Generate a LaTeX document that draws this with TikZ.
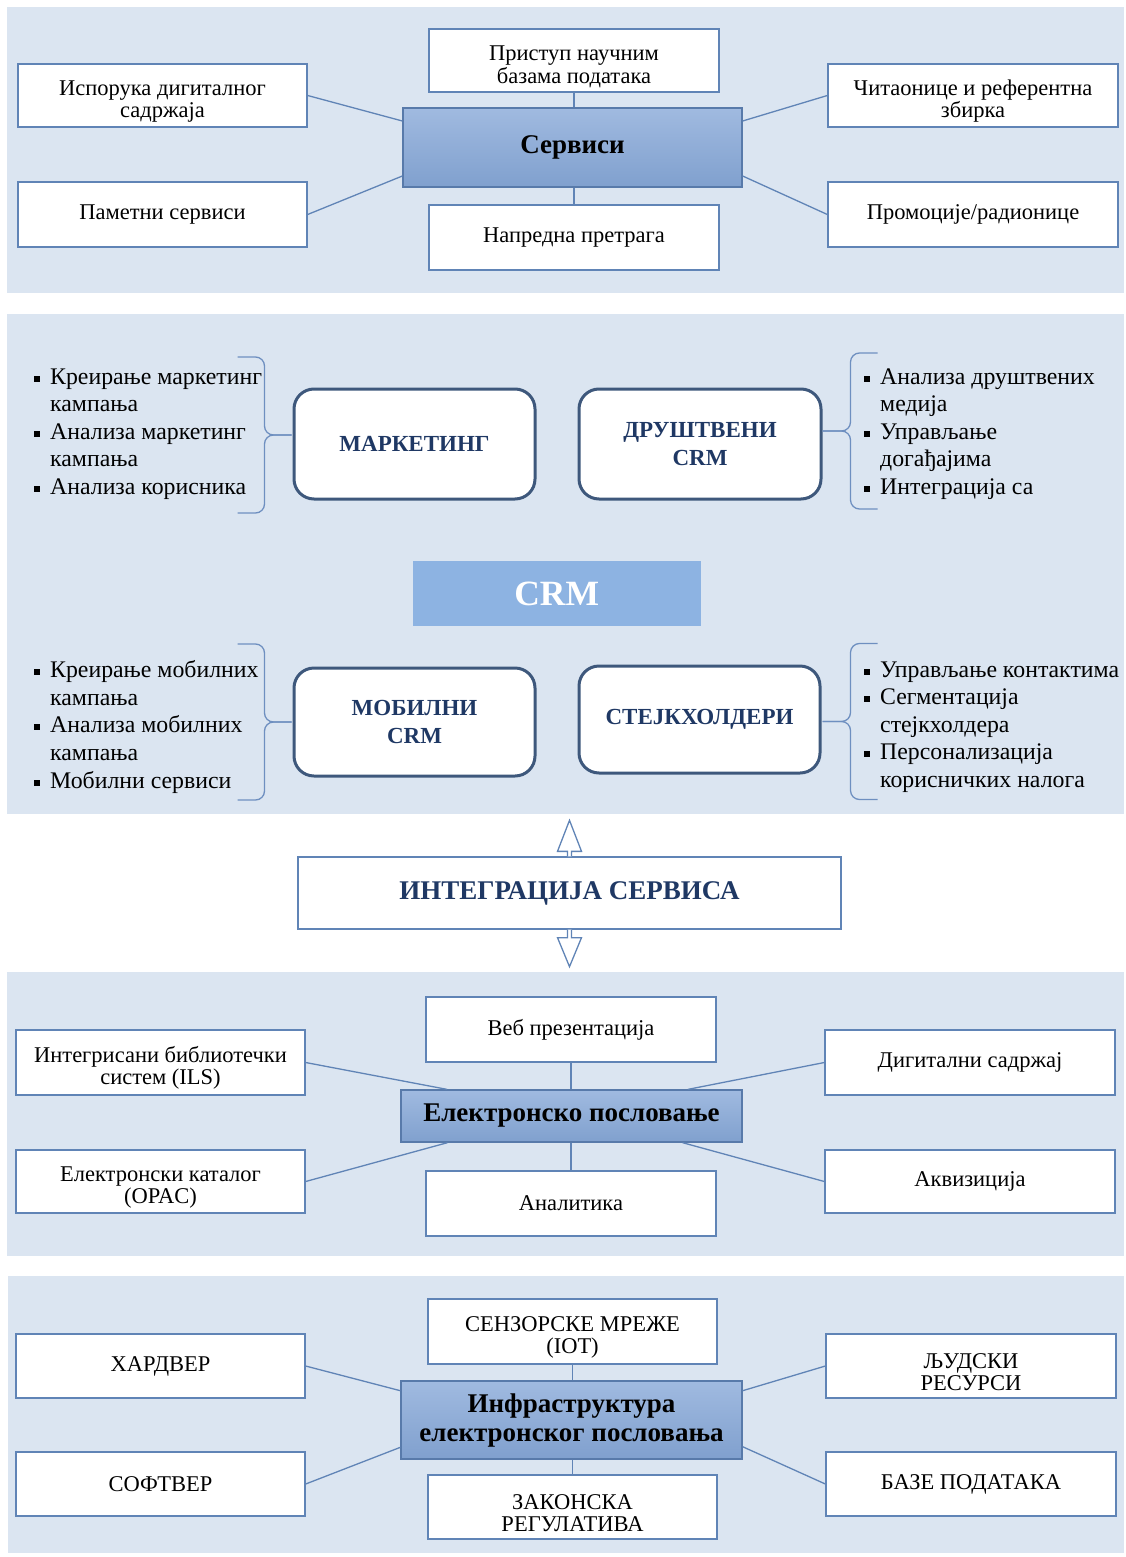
\documentclass[tikz,border=0pt]{standalone}
\usepackage{fontspec}
\setmainfont{Liberation Serif}
\usetikzlibrary{calc}

\definecolor{panelbg}{RGB}{219,229,241}
\definecolor{boxblue}{RGB}{96,132,182}
\definecolor{hubedge}{RGB}{88,122,170}
\definecolor{hubtop}{RGB}{160,186,224}
\definecolor{hubbot}{RGB}{128,160,206}
\definecolor{crmfill}{RGB}{141,179,226}
\definecolor{areaedge}{RGB}{62,88,124}
\definecolor{navy}{RGB}{31,56,100}
\definecolor{bracecol}{RGB}{110,143,192}

% list bullet and hanging indent
\newcommand\bul{\makebox[16pt][l]{\rule[2.5pt]{6pt}{6pt}}}
\newcommand\ind{\hspace*{16pt}}
% taller first line, lowers a two-line label inside its box
\newcommand\tall{\rule{0pt}{27pt}}

% "}" brace whose tip is at #1, half span #2
\newcommand\bracer[2]{%
  \draw[brace] (#1) -- ++(-18,0) to[out=180,in=-90] ++(-9,-9) -- ++(0,{-(#2-18)}) to[out=90,in=0] ++(-9,-9) -- ++(-18,0);
  \draw[brace] (#1) -- ++(-18,0) to[out=180,in=90] ++(-9,9) -- ++(0,{#2-18}) to[out=-90,in=0] ++(-9,9) -- ++(-18,0);
}
% "{" brace whose tip is at #1, half span #2
\newcommand\bracel[2]{%
  \draw[brace] (#1) -- ++(19,0) to[out=0,in=-90] ++(9,-9) -- ++(0,{-(#2-18)}) to[out=90,in=180] ++(9,-9) -- ++(18,0);
  \draw[brace] (#1) -- ++(19,0) to[out=0,in=90] ++(9,9) -- ++(0,{#2-18}) to[out=-90,in=180] ++(9,9) -- ++(18,0);
}

\begin{document}
\begin{tikzpicture}[x=1pt,y=-1pt,
  panel/.style={fill=panelbg},
  leaf/.style={draw=boxblue, line width=1.3pt, fill=white, inner sep=0pt, align=center,
    font=\fontsize{22.5}{22.5}\selectfont},
  hub/.style={draw=hubedge, line width=1.3pt, top color=hubtop, bottom color=hubbot,
    inner sep=0pt, align=center, font=\bfseries\fontsize{27}{29}\selectfont},
  conn/.style={draw=boxblue, line width=1.3pt},
  area/.style={draw=areaedge, line width=3pt, rounded corners=20pt, fill=white,
    inner sep=0pt, align=center, text=navy, font=\bfseries\fontsize{23}{27.5}\selectfont},
  items/.style={inner sep=0pt, align=left, anchor=west, font=\fontsize{23.8}{27.6}\selectfont},
  brace/.style={draw=bracecol, line width=1.3pt},
  hollow/.style={draw=boxblue, line width=1.3pt, fill=white, line join=miter}
]
\useasboundingbox (0,0) rectangle (1126,1557);
\fill[white] (0,0) rectangle (1126,1557);

% background bands
\fill[panel] (7,7) rectangle (1124,293);
\fill[panel] (7,314) rectangle (1124,814);
\fill[panel] (7,972) rectangle (1124,1256);
\fill[panel] (8,1276) rectangle (1124,1553);

% ---------- services ----------
\node[hub, minimum width=339pt, minimum height=79pt] (serv) at (572.5,147.5) {Сервиси};
\node[leaf, minimum width=289pt, minimum height=63pt] (isp) at (162.5,95.5) {\tall Испорука дигиталног\\садржаја};
\node[leaf, minimum width=289pt, minimum height=65pt] (pam) at (162.5,214.5) {Паметни сервиси};
\node[leaf, minimum width=290pt, minimum height=63pt] (pri) at (574,60.5) {\tall Приступ научним\\базама података};
\node[leaf, minimum width=290pt, minimum height=65pt] (nap) at (574,237.5) {Напредна претрага};
\node[leaf, minimum width=290pt, minimum height=63pt] (cit) at (973,95.5) {\tall Читаонице и референтна\\збирка};
\node[leaf, minimum width=290pt, minimum height=65pt] (pro) at (973,214.5) {Промоције/радионице};

\draw[conn] (isp.east) -- ($(serv.west)+(0,-26.5)$);
\draw[conn] (pam.east) -- ($(serv.west)+(0,28.5)$);
\draw[conn] (cit.west) -- ($(serv.east)+(0,-26.5)$);
\draw[conn] (pro.west) -- ($(serv.east)+(0,28.5)$);
\draw[conn] (pri.south) -- (pri.south |- serv.north);
\draw[conn] (nap.north) -- (nap.north |- serv.south);

% ---------- CRM ----------
\node[fill=crmfill, minimum width=288pt, minimum height=65pt, inner sep=0pt, text=white,
  font=\bfseries\fontsize{35.5}{40}\selectfont] (crm) at (556.75,593.5) {CRM};

\node[area, minimum width=241pt, minimum height=110pt] (mark) at (414.5,444) {МАРКЕТИНГ};
\node[area, minimum width=242pt, minimum height=110pt] (dru) at (700,444) {ДРУШТВЕНИ\\CRM};
\node[area, minimum width=241pt, minimum height=108pt] (mob) at (414.5,722) {МОБИЛНИ\\CRM};
\node[area, minimum width=241pt, minimum height=107pt] (ste) at (699.5,719.5) {СТЕЈКХОЛДЕРИ};

\node[items] (lmark) at (34,434) {\bul Креирање маркетинг\\\ind кампања\\\bul Анализа маркетинг\\\ind кампања\\\bul Анализа корисника};
\node[items] (ldru) at (864,434) {\bul Анализа друштвених\\\ind медија\\\bul Управљање\\\ind догађајима\\\bul Интеграција са};
\node[items] (lmob) at (34,727) {\bul Креирање мобилних\\\ind кампања\\\bul Анализа мобилних\\\ind кампања\\\bul Мобилни сервиси};
\node[items] (lste) at (864,727) {\bul Управљање контактима\\\bul Сегментација\\\ind стејкхолдера\\\bul Персонализација\\\ind корисничких налога};

\coordinate (tmark) at ($(mark.west)+(-1,-9)$);
\coordinate (tdru) at ($(dru.east)+(0,-13)$);
\coordinate (tmob) at ($(mob.west)+(-1,0)$);
\coordinate (tste) at ($(ste.east)+(1,2)$);
\bracer{tmark}{78}
\bracel{tdru}{78}
\bracer{tmob}{78}
\bracel{tste}{78}

% ---------- integration ----------
\node[leaf, minimum width=543pt, minimum height=72pt, text=navy,
  font=\bfseries\fontsize{27}{30}\selectfont] (integ) at (569.5,893) {ИНТЕГРАЦИЈА СЕРВИСА};
\draw[hollow] ($(integ.north)+(-2,0)$) -- ++(0,-5) -- ++(-10,0) -- ++(12,-31) -- ++(12,31) -- ++(-10,0) -- ++(0,5);
\draw[hollow] ($(integ.south)+(-2,0)$) -- ++(0,8) -- ++(-10,0) -- ++(12,29) -- ++(12,-29) -- ++(-10,0) -- ++(0,-8);

% ---------- e-business ----------
\node[hub, minimum width=341pt, minimum height=52pt] (ep) at (571.5,1116) {Електронско пословање};
\node[leaf, minimum width=289pt, minimum height=65pt] (ils) at (160.5,1062.5) {\tall Интегрисани библиотечки\\систем (ILS)};
\node[leaf, minimum width=289pt, minimum height=63pt] (kat) at (160.5,1181.5) {\tall Електронски каталог\\(OPAC)};
\node[leaf, minimum width=290pt, minimum height=65pt] (veb) at (571,1029.5) {Веб презентација};
\node[leaf, minimum width=290pt, minimum height=65pt] (ana) at (571,1203.5) {Аналитика};
\node[leaf, minimum width=290pt, minimum height=65pt] (dig) at (970,1062.5) {Дигитални садржај};
\node[leaf, minimum width=290pt, minimum height=63pt] (akv) at (970,1181.5) {Аквизиција};

\draw[conn] (ils.east) -- ($(ep.north)+(-124.5,0)$);
\draw[conn] (kat.east) -- ($(ep.south)+(-124,0)$);
\draw[conn] (dig.west) -- ($(ep.north)+(116.5,0)$);
\draw[conn] (akv.west) -- ($(ep.south)+(111,0)$);
\draw[conn] (veb.south) -- (veb.south |- ep.north);
\draw[conn] (ana.north) -- (ana.north |- ep.south);

% ---------- infrastructure ----------
\node[hub, minimum width=341pt, minimum height=78pt] (inf) at (571.5,1420) {Инфраструктура\\електронског пословања};
\node[leaf, minimum width=289pt, minimum height=64pt] (har) at (160.5,1366) {ХАРДВЕР};
\node[leaf, minimum width=289pt, minimum height=64pt] (sof) at (160.5,1484) {СОФТВЕР};
\node[leaf, minimum width=289pt, minimum height=65pt] (sen) at (572.5,1331.5) {\tall СЕНЗОРСКЕ МРЕЖЕ\\(IOT)};
\node[leaf, minimum width=289pt, minimum height=64pt] (zak) at (572.5,1507) {\tall ЗАКОНСКА\\РЕГУЛАТИВА};
\node[leaf, minimum width=290pt, minimum height=64pt] (lju) at (971,1366) {\tall ЉУДСКИ\\РЕСУРСИ};
\node[leaf, minimum width=290pt, minimum height=64pt] (baz) at (971,1484) {БАЗЕ ПОДАТАКА};

\draw[conn] (har.east) -- ($(inf.west)+(0,-29.3)$);
\draw[conn] (sof.east) -- ($(inf.west)+(0,27.3)$);
\draw[conn] (lju.west) -- ($(inf.east)+(0,-29.3)$);
\draw[conn] (baz.west) -- ($(inf.east)+(0,26.7)$);
\draw[conn] (sen.south) -- (sen.south |- inf.north);
\draw[conn] (zak.north) -- (zak.north |- inf.south);
\end{tikzpicture}
\end{document}
